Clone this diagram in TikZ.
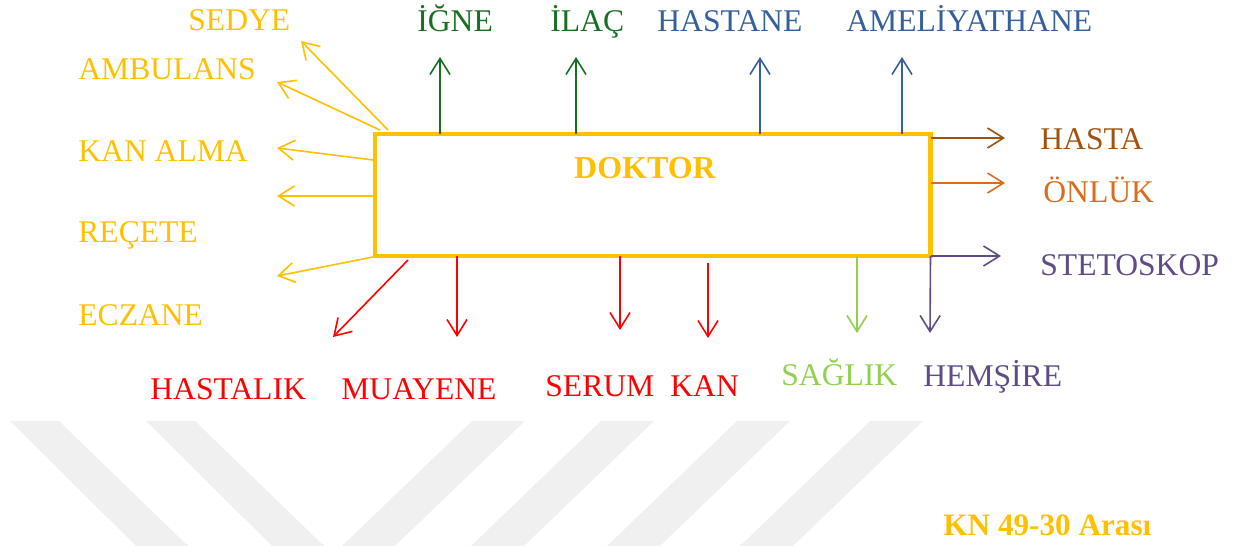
\documentclass[tikz,border=0pt]{standalone}
\usepackage{fontspec}
\setmainfont{Liberation Serif}
\usepackage{tikz}
\usetikzlibrary{arrows.meta,calc}

\definecolor{altin}{HTML}{FFC000}
\definecolor{yesil}{HTML}{17701F}
\definecolor{mavi}{HTML}{34609C}
\definecolor{kahve}{HTML}{A0520E}
\definecolor{turuncu}{HTML}{DC6B1C}
\definecolor{mor}{HTML}{5F4B85}
\definecolor{kirmizi}{HTML}{FF0000}
\definecolor{acikyesil}{HTML}{92D050}
\definecolor{filigran}{HTML}{F0F0F0}

\begin{document}
\begin{tikzpicture}[x=0.5pt, y=-0.5pt,
  ok/.style={-{Straight Barb[length=8pt,width=10pt]}, line width=0.8pt},
  etiket/.style={font=\fontsize{15.8}{18}\selectfont, inner sep=0pt, anchor=base west},
  kutu/.style={draw=altin, line width=2.25pt, fill=white, minimum width=277.75pt, minimum height=61pt, inner sep=0pt, outer sep=0pt}]
\useasboundingbox (0,0) rectangle (1243,546);
\foreach \a in {10,146} \fill[filigran] (\a,421) -- (\a+49,421) -- (\a+178,546) -- (\a+126,546) -- cycle;
\foreach \a in {472,601,737,870} \fill[filigran] (\a,421) -- (\a+53,421) -- (\a-77,546) -- (\a-130,546) -- cycle;

\node [kutu] (doktor) at (652.75,195) {};
\node [font=\fontsize{16}{19}\selectfont\bfseries, text=altin, inner sep=0pt, anchor=base] (doktorad) at (645,178) {DOKTOR};

\node [etiket, text=altin] (sedye) at (188,31) {SEDYE};
\node [etiket, text=altin] (ambulans) at (78,79) {AMBULANS};
\node [etiket, text=altin] (kanalma) at (78,161) {KAN ALMA};
\node [etiket, text=altin] (recete) at (78,242) {REÇETE};
\node [etiket, text=altin] (eczane) at (78,325) {ECZANE};
\node [etiket, text=yesil] (igne) at (417,32) {İĞNE};
\node [etiket, text=yesil] (ilac) at (550,32) {İLAÇ};
\node [etiket, text=mavi] (hastane) at (657,32) {HASTANE};
\node [etiket, text=mavi] (ameliyathane) at (846,32) {AMELİYATHANE};
\node [etiket, text=kahve] (hasta) at (1040,149) {HASTA};
\node [etiket, text=turuncu] (onluk) at (1043,202) {ÖNLÜK};
\node [etiket, text=mor] (stetoskop) at (1040,275) {STETOSKOP};
\node [etiket, text=kirmizi] (hastalik) at (150,399) {HASTALIK};
\node [etiket, text=kirmizi] (muayene) at (341,399) {MUAYENE};
\node [etiket, text=kirmizi] (serum) at (545,396) {SERUM};
\node [etiket, text=kirmizi] (kan) at (670,396) {KAN};
\node [etiket, text=acikyesil] (saglik) at (781,385) {SAĞLIK};
\node [etiket, text=mor] (hemsire) at (923,386) {HEMŞİRE};
\node [etiket, font=\fontsize{15.6}{18}\selectfont\bfseries, text=altin] (kn) at (943,535) {KN 49-30 Arası};

\coordinate (sedyeuc) at (301,41);
\coordinate (ambulansuc) at (277,82);
\coordinate (kanalmauc) at (277,148);
\coordinate (bosuc) at (277,196);
\coordinate (receteuc) at (277,276);
\coordinate (hastalikuc) at (333,337);
\coordinate (muayeneuc) at (457,337);
\coordinate (serumuc) at (620,330);
\coordinate (kanbas) at (708,263);
\coordinate (kanuc) at (708,338);
\coordinate (igneuc) at (440,57);
\coordinate (ilacuc) at (576,57);
\coordinate (hastaneuc) at (760,57);
\coordinate (ameliyatuc) at (902,57);
\coordinate (hastauc) at (1005,138);
\coordinate (onlukuc) at (1005,183);
\coordinate (stetouc) at (1001,256);
\coordinate (saglikuc) at (857,333);
\coordinate (hemsireuc) at (930,333);

\draw [ok, altin] ($(doktor.north west)+(13,-4)$) -- (sedyeuc);
\draw [ok, altin] ($(doktor.north west)+(5,-4)$) -- (ambulansuc);
\draw [ok, altin] ($(doktor.north west)+(-2,26)$) -- (kanalmauc);
\draw [ok, altin] (doktor.west |- bosuc) -- (bosuc);
\draw [ok, altin] ($(doktor.south west)+(-2,1)$) -- (receteuc);
\draw [ok, kirmizi] ($(doktor.south west)+(33,4)$) -- (hastalikuc);
\draw [ok, kirmizi] (doktor.south -| muayeneuc) -- (muayeneuc);
\draw [ok, kirmizi] (doktor.south -| serumuc) -- (serumuc);
\draw [ok, kirmizi] (kanbas) -- (kanuc);
\draw [ok, yesil] (doktor.north -| igneuc) -- (igneuc);
\draw [ok, yesil] (doktor.north -| ilacuc) -- (ilacuc);
\draw [ok, mavi] (doktor.north -| hastaneuc) -- (hastaneuc);
\draw [ok, mavi] (doktor.north -| ameliyatuc) -- (ameliyatuc);
\draw [ok, kahve] (doktor.east |- hastauc) -- (hastauc);
\draw [ok, turuncu] (doktor.east |- onlukuc) -- (onlukuc);
\draw [ok, mor] (doktor.south east) -- (stetouc);
\draw [ok, acikyesil] (doktor.south -| saglikuc) -- (saglikuc);
\draw [ok, mor] (doktor.south east) -- (hemsireuc);
\end{tikzpicture}
\end{document}
